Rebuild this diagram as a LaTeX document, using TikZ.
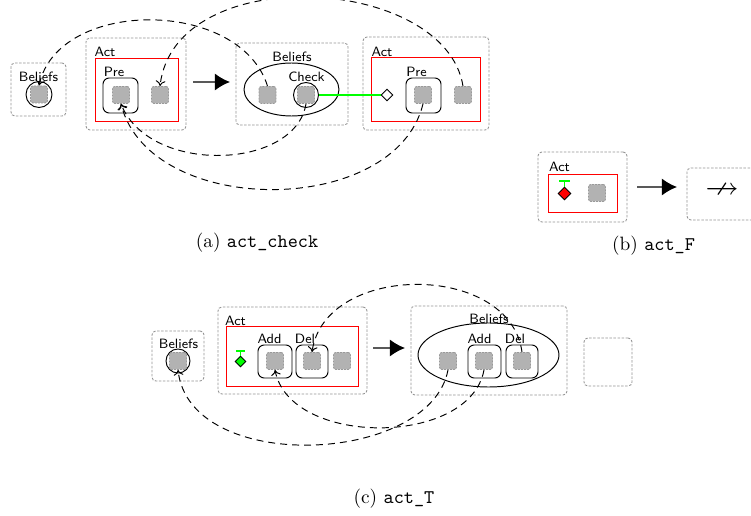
\documentclass[tikz,border=0pt]{standalone}
\usepackage{amssymb}
\usetikzlibrary{shapes.geometric,fit,arrows.meta}
\newcommand{\PX}{0.518pt}
\tikzset{
 dotbox/.style={draw=gray!85, dash pattern=on 1.3pt off 0.8pt, rounded corners=2pt, inner sep=0pt, line width=0.45pt},
 redbox/.style={draw=red, line width=0.4pt, inner sep=0pt},
 rbox/.style={draw=black, rounded corners=3.2pt, line width=0.5pt, inner sep=0pt},
 gsq/.style={draw=gray!80, fill=gray!60, dash pattern=on 1pt off 0.6pt, rounded corners=1.2pt, minimum size=17*\PX, inner sep=0pt, line width=0.45pt},
 lbl/.style={font=\sffamily\scriptsize, inner sep=0pt},
 captxt/.style={font=\normalsize, inner sep=0pt},
 circ/.style={circle, draw, line width=0.5pt, inner sep=0pt},
 ell/.style={ellipse, draw, line width=0.5pt, inner sep=0pt},
 link/.style={line width=0.5pt, dash pattern=on 3.6pt off 2.6pt, -{To[length=2.8pt,width=5pt]}},
 bigarrow/.style={draw=black!65, line width=0.8pt, -{Latex[length=7.8pt,width=8.8pt,black]}},
 dia/.style={diamond, draw, line width=0.5pt, inner sep=0pt, minimum size=12*\PX},
 gline/.style={draw=green, line width=1pt},
}
\begin{document}
\begin{tikzpicture}[x=0.518pt, y=-0.518pt]
\useasboundingbox (0,0) rectangle (751,516);

% ===== (a) =====
\node[dotbox, fit={(11,63) (66,116)}] (ab1) {};
\node[lbl] (ab1l) at (38.5,77) {Beliefs};
\node[circ, minimum size=26*\PX] (ab1c) at (39,94.5) {};
\node[gsq] (ab1s) at (39,94.5) {};

\node[dotbox, fit={(86,38) (186,130)}] (aact1) {};
\node[lbl] (aact1l) at (105,52) {Act};
\node[redbox, fit={(95,58) (178,121)}] (ared1) {};
\node[rbox, fit={(103,78) (138,113)}] (apre1) {};
\node[lbl] (apre1l) at (114,72) {Pre};
\node[gsq] (apre1s) at (121,95) {};
\node[gsq] (aact1s2) at (160,95) {};

\coordinate (aarr1s) at (193,82);
\coordinate (aarr1e) at (230,82);
\draw[bigarrow] (aarr1s) -- (aarr1e);

\node[dotbox, fit={(236,43) (348,125)}] (ab2) {};
\node[lbl] (ab2l) at (292,57) {Beliefs};
\node[ell, minimum width=95*\PX, minimum height=53*\PX] (ab2e) at (291.5,89.5) {};
\node[gsq] (ab2s) at (267.5,95) {};
\node[lbl] (achkl) at (306.5,77) {Check};
\node[circ, minimum size=25*\PX] (achk) at (306,95) {};
\node[gsq] (achks) at (306,95) {};

\node[dotbox, fit={(363,37) (489,130)}] (aact3) {};
\node[lbl] (aact3l) at (382,52) {Act};
\node[redbox, fit={(371,57) (480,121)}] (ared3) {};
\node[dia, fill=white] (adia) at (387,95) {};
\node[rbox, fit={(406,78) (441,113)}] (apre3) {};
\node[lbl] (apre3l) at (416.5,72) {Pre};
\node[gsq] (apre3s) at (423,95) {};
\node[gsq] (aact3s2) at (463,95) {};

\draw[gline] (achk.east) -- (adia.west);

\draw[link] (ab2s.north) .. controls (240,-2) and (58,-2) .. (ab1s.north);
\draw[link] (aact3s2.north) .. controls (445,-25) and (175,-40) .. (aact1s2.north);
\draw[link] (achks.south) .. controls (295,170) and (150,175) .. (apre1s.south);
\draw[link] (apre3s.south) .. controls (395,218) and (150,218) .. (apre1s.south);

\node[captxt] (capa) at (257,243) {(a) \texttt{act\_check}};

% ===== (b) =====
\node[dotbox, fit={(538,152) (627,222)}] (bact) {};
\node[lbl] (bactl) at (559.5,167) {Act};
\node[redbox, fit={(548,174) (617,212)}] (bred) {};
\node[dia, fill=red, minimum size=13*\PX] (bdia) at (564.5,193.5) {};
\coordinate (bt) at (564.5,181);
\coordinate (btl) at (559,181);
\coordinate (btr) at (570,181);
\draw[gline, line width=0.8pt] (bdia.north) -- (bt);
\draw[gline, line width=0.8pt] (btl) -- (btr);
\node[gsq] (bsq) at (597,193) {};
\coordinate (barrs) at (637,187);
\coordinate (barre) at (677,187);
\draw[bigarrow] (barrs) -- (barre);
\node[dotbox, fit={(687,168) (762,220)}] (bres) {};
\node[inner sep=0pt] (bna) at (722,191) {\LARGE$\nrightarrow$};
\node[captxt] (capb) at (653.5,246) {(b) \texttt{act\_F}};

% ===== (c) =====
\node[dotbox, fit={(152,331) (204,381)}] (cb1) {};
\node[lbl] (cb1l) at (178.5,344) {Beliefs};
\node[circ, minimum size=24*\PX] (cb1c) at (178,361) {};
\node[gsq] (cb1s) at (178,361) {};

\node[dotbox, fit={(218,307) (367,394)}] (cact) {};
\node[lbl] (cactl) at (235.5,321) {Act};
\node[redbox, fit={(226,326) (358,386)}] (cred) {};
\node[dia, fill=green, minimum size=11*\PX] (cdia) at (240.5,361.5) {};
\coordinate (ct) at (240.5,351);
\coordinate (ctl) at (236,351);
\coordinate (ctr) at (245,351);
\draw[gline, line width=0.8pt] (cdia.north) -- (ct);
\draw[gline, line width=0.8pt] (ctl) -- (ctr);
\node[rbox, fit={(258,345) (292,378)}] (cadd) {};
\node[lbl] (caddl) at (269.5,339) {Add};
\node[gsq] (cadds) at (275,361) {};
\node[rbox, fit={(296,345) (328,378)}] (cdel) {};
\node[lbl] (cdell) at (305,339) {Del};
\node[gsq] (cdels) at (312,361) {};
\node[gsq] (cacts3) at (342,361) {};

\coordinate (carrs) at (373,348);
\coordinate (carre) at (405,348);
\draw[bigarrow] (carrs) -- (carre);

\node[dotbox, fit={(411,306) (567,395)}] (cb2) {};
\node[lbl] (cb2l) at (489,319) {Beliefs};
\node[ell, minimum width=141*\PX, minimum height=64*\PX] (cb2e) at (488.5,355) {};
\node[gsq] (cb2s1) at (448,361) {};
\node[rbox, fit={(468,345) (501,378)}] (cadd2) {};
\node[lbl] (cadd2l) at (479.5,339) {Add};
\node[gsq] (cadd2s) at (484,361) {};
\node[rbox, fit={(506,345) (538,378)}] (cdel2) {};
\node[lbl] (cdel2l) at (515,339) {Del};
\node[gsq] (cdel2s) at (522,361) {};

\node[dotbox, fit={(584,338) (632,386)}] (cempty) {};

\draw[link] (cdel2s.north) .. controls (510,262) and (325,262) .. (cdels.north);
\draw[link] (cb2s1.south) .. controls (430,465) and (190,475) .. (cb1s.south);
\draw[link] (cadd2s.south) .. controls (470,447) and (290,447) .. (cadds.south);

\node[captxt] (capc) at (394,499) {(c) \texttt{act\_T}};
\end{tikzpicture}
\end{document}
